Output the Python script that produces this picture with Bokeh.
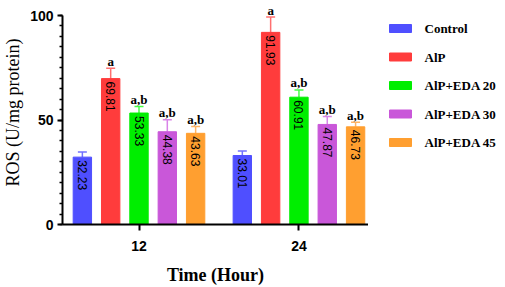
import math
from bokeh.plotting import figure
from bokeh.layouts import row
from bokeh.models import (Range1d, FixedTicker, SingleIntervalTicker, Whisker, TeeHead,
                          ColumnDataSource)
from bokeh.embed import file_html
from bokeh.resources import INLINE
from bokeh.core.properties import value

times = ["12", "24"]
groups = ["Control", "AlP", "AlP+EDA 20", "AlP+EDA 30", "AlP+EDA 45"]
means_12 = [32.23, 69.81, 53.33, 44.38, 43.63]
means_24 = [33.01, 91.93, 60.91, 47.87, 46.73]
err_12 = [2.4, 5.0, 3.1, 5.7, 3.3]
err_24 = [2.2, 7.3, 3.5, 3.8, 2.2]
sig_12 = ["", "a", "a,b", "a,b", "a,b"]
sig_24 = ["", "a", "a,b", "a,b", "a,b"]
y_ticks = [0, 50, 100]

bar_colors = ["#4f4fff", "#ff3c3c", "#00ee00", "#c957d9", "#ff9f30"]
err_colors = ["#7272ff", "#ff7070", "#44ff44", "#d983e8", "#ffb464"]

SERIF = "Liberation Serif"
SANS = "Liberation Sans"

# layout (screen pixels)
W, H = 368, 287
LEFT, BOTTOM = 60, 63
LEG_W = 505 - W
frame_w, frame_h = W - LEFT, H - BOTTOM
px_per_x = 161.0
x0 = 1 - 77 / px_per_x
x1 = x0 + frame_w / px_per_x
y_end = 100 + 15 / 2.09

p = figure(width=W, height=H, output_backend="svg", toolbar_location=None,
           x_range=Range1d(x0, x1), y_range=Range1d(0, y_end),
           min_border_left=LEFT, min_border_right=0, min_border_top=0,
           min_border_bottom=BOTTOM)
p.outline_line_color = None
p.grid.visible = False

step = 28.5 / px_per_x
bar_w = 18.5 / px_per_x
for i, g in enumerate(groups):
    xs = [k + 1 + (i - 2) * step for k in range(len(times))]
    tops = [means_12[i], means_24[i]]
    errs = [err_12[i], err_24[i]]
    src = ColumnDataSource(dict(
        x=xs, top=tops,
        upper=[t + e for t, e in zip(tops, errs)],
        label=[f"{t:.2f}" for t in tops],
        sig=[sig_12[i], sig_24[i]],
    ))
    p.vbar(x="x", top="top", bottom=0, width=bar_w, source=src,
           fill_color=bar_colors[i], line_color=bar_colors[i])
    w = Whisker(base="x", upper="upper", lower="top", source=src, dimension="height",
                line_color=err_colors[i], line_width=1.5,
                upper_head=TeeHead(size=9, line_color=err_colors[i], line_width=1.5),
                lower_head=None)
    p.add_layout(w)
    p.text(x="x", y="top", text="label", source=src, angle=-math.pi / 2,
           text_align="left", text_baseline="middle", y_offset=3,
           text_font=value(SANS), text_font_size="12px", text_color="black")
    p.text(x="x", y="upper", text="sig", source=src,
           text_align="center", text_baseline="alphabetic", y_offset=-7,
           text_font=value(SERIF), text_font_size="13px", text_font_style="bold",
           text_color="black")

# x axis
xa = p.xaxis[0]
xa.ticker = FixedTicker(ticks=[1, 2])
xa.major_label_overrides = {1: times[0], 2: times[1]}
xa.minor_tick_line_color = None
xa.major_tick_out = 6
xa.major_tick_in = 0
xa.major_tick_line_width = 2
xa.axis_line_width = 2
xa.axis_line_color = "black"
xa.major_label_standoff = 10
xa.major_label_text_font = SANS
xa.major_label_text_font_style = "bold"
xa.major_label_text_font_size = "14px"
xa.major_label_text_color = "black"
xa.axis_label = "Time (Hour)"
xa.axis_label_standoff = 11
xa.axis_label_text_font = SERIF
xa.axis_label_text_font_style = "bold"
xa.axis_label_text_font_size = "18px"
xa.axis_label_text_color = "black"

# y axis
ya = p.yaxis[0]
ya.ticker = SingleIntervalTicker(interval=50, num_minor_ticks=10)
ya.bounds = (y_ticks[0], y_ticks[-1])
ya.major_tick_out = 5
ya.major_tick_in = 0
ya.minor_tick_out = 3
ya.minor_tick_in = 0
ya.major_tick_line_width = 2
ya.minor_tick_line_width = 1.5
ya.axis_line_width = 2
ya.axis_line_color = "black"
ya.major_label_standoff = 4
ya.major_label_text_font = SANS
ya.major_label_text_font_style = "bold"
ya.major_label_text_font_size = "14px"
ya.major_label_text_color = "black"
ya.axis_label = "ROS (U/mg protein)"
ya.axis_label_standoff = 4
ya.axis_label_text_font = SERIF
ya.axis_label_text_font_style = "normal"
ya.axis_label_text_font_size = "18px"
ya.axis_label_text_color = "black"

# legend panel (pixel coordinates of its frame, aligned with the chart frame)
leg = figure(width=LEG_W, height=H, output_backend="svg", toolbar_location=None,
             x_range=Range1d(0, LEG_W), y_range=Range1d(0, frame_h),
             min_border_left=0, min_border_right=0, min_border_top=0,
             min_border_bottom=BOTTOM, x_axis_location=None, y_axis_location=None)
leg.outline_line_color = None
leg.grid.visible = False
sw_x, tx_x = 400 - W, 424 - W
row_y0, row_gap = 28, 28.5
leg_src = ColumnDataSource(dict(
    x=[sw_x] * len(groups), tx=[tx_x] * len(groups),
    y=[frame_h - (row_y0 + k * row_gap) for k in range(len(groups))],
    label=groups, color=bar_colors))
leg.rect(x="x", y="y", width=22, height=8, source=leg_src,
         fill_color="color", line_color="color")
leg.text(x="tx", y="y", text="label", source=leg_src, text_align="left",
         text_baseline="middle", text_font=value(SERIF), text_font_style="bold",
         text_font_size="13px", text_color="black")

open("out.html", "w").write(file_html(row(p, leg), INLINE))
